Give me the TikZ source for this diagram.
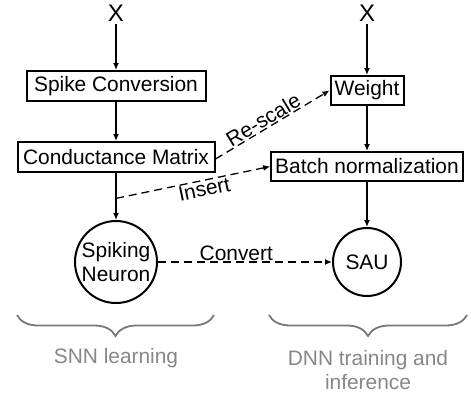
\documentclass[tikz,border=0pt]{standalone}
\usepackage{fontspec}
\setmainfont{Liberation Sans}
\usetikzlibrary{arrows.meta,decorations.pathreplacing,calc}
\definecolor{braceg}{RGB}{120,120,120}
\definecolor{labelg}{RGB}{135,135,135}
\begin{document}
\begin{tikzpicture}[x=1pt,y=-1pt,
  every node/.style={font=\fontsize{20.9}{24}\selectfont},
  box/.style={draw,line width=2pt,minimum height=30pt,inner xsep=4pt,inner ysep=0pt},
  circ/.style={draw,circle,line width=2pt,inner sep=0pt,align=center},
  xlab/.style={font=\fontsize{24}{24}\selectfont,inner sep=2pt},
  arr/.style={line width=1.5pt,-{Latex[length=7pt,width=6pt]}},
  darr/.style={arr,line width=1.3pt,dash pattern=on 8pt off 5pt},
  lab/.style={inner sep=1pt},
  bracestyle/.style={draw=braceg,line width=1.8pt,decorate,decoration={brace,mirror,amplitude=21pt}},
  grey/.style={text=labelg,align=center}]
\useasboundingbox (0,0) rectangle (471,397);
% left column
\node[xlab] (x1) at (116,13.5) {X};
\node[box,minimum width=179pt] (sc) at (116,86) {Spike Conversion};
\node[box,minimum width=197pt] (cm) at (116,157) {Conductance Matrix};
\node[circ,minimum size=82pt] (sn) at (116,262) {Spiking\\Neuron};
% right column
\node[xlab] (x2) at (367,13.5) {X};
\node[box,minimum width=73pt,minimum height=29pt] (w) at (367,90.5) {Weight};
\node[box,minimum width=190pt,minimum height=29pt] (bn) at (367,166.5) {Batch normalization};
\node[circ,minimum size=68pt] (sau) at (367,262) {SAU};
% solid arrows
\draw[arr] (x1.south) -- (sc.north);
\draw[arr] (sc.south) -- (cm.north);
\draw[arr] (cm.south) -- (sn.north);
\draw[arr] (x2.south) -- (w.north);
\draw[arr] (w.south) -- (bn.north);
\draw[arr] (bn.south) -- (sau.north);
% dashed arrows
\coordinate (rs) at ($(cm.east)+(0,2)$);
\draw[darr] (rs) -- (w.west) node[lab,sloped,above,pos=0.46] {Re-scale};
\coordinate (ip) at ($(cm.south)!0.54!(sn.north)$);
\draw[darr] (ip) -- (bn.west) node[lab,sloped,below,pos=0.56] {Insert};
\draw[darr] (sn.east) -- (sau.west) node[lab,above,pos=0.45] {Convert};
% braces
\coordinate (b1a) at (17,315);
\coordinate (b1b) at (214,315);
\coordinate (b2a) at (269,315);
\coordinate (b2b) at (467,315);
\draw[bracestyle] (b1a) -- (b1b);
\draw[bracestyle] (b2a) -- (b2b);
\node[grey] (l1) at (116,358) {SNN learning};
\node[grey] (l2) at (368,370) {DNN training and\\inference};
\end{tikzpicture}
\end{document}
